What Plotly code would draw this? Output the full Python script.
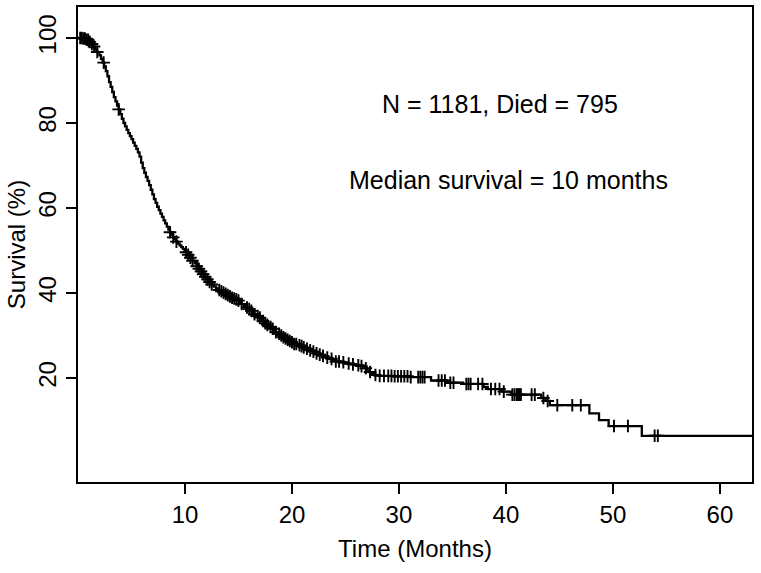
import numpy as np
import plotly.graph_objects as go

# Kaplan-Meier step curve: event times (months) and survival (%) after each step
event_time = [0.0, 0.4, 0.7, 1.0, 1.2, 1.4, 1.6, 1.8, 2.0, 2.15, 2.3, 2.45, 2.6, 2.75,
              2.9, 3.05, 3.2, 3.35, 3.5, 3.65, 3.8, 3.95, 4.1, 4.25, 4.4, 4.55, 4.7,
              4.85, 5.0, 5.15, 5.3, 5.45, 5.6, 5.75, 5.9, 6.05, 6.2, 6.35, 6.5, 6.65,
              6.8, 6.95, 7.1, 7.25, 7.4, 7.55, 7.7, 7.85, 8.0, 8.15, 8.3, 8.45, 8.6,
              8.75, 8.9, 9.05, 9.2, 9.35, 9.5, 9.65, 9.8, 9.95, 10.1, 10.3, 10.5,
              10.7, 10.9, 11.1, 11.3, 11.5, 11.7, 11.9, 12.1, 12.3, 12.5, 12.7, 12.9,
              13.1, 13.3, 13.5, 13.7, 13.9, 14.1, 14.3, 14.5, 14.7, 14.9, 15.1, 15.3,
              15.5, 15.7, 15.9, 16.1, 16.3, 16.5, 16.7, 16.9, 17.1, 17.3, 17.5, 17.7,
              17.9, 18.1, 18.3, 18.5, 18.7, 18.9, 19.1, 19.3, 19.5, 19.7, 19.9, 20.2,
              20.5, 20.8, 21.1, 21.4, 21.7, 22.0, 22.3, 22.6, 22.9, 23.2, 23.5, 23.8,
              24.1, 24.5, 25.0, 25.5, 26.0, 26.5, 26.8, 27.0, 27.2, 27.5, 27.8, 28.2,
              29.5, 31.0, 33.0, 34.5, 36.0, 37.9, 38.3, 39.6, 40.5, 43.3, 43.7, 44.1,
              47.8, 48.7, 49.6, 52.7, 63.0]
survival = [100.0, 99.9, 99.6, 99.1, 98.6, 98.0, 97.3, 96.7, 95.9, 95.1, 94.2, 93.3,
            92.2, 91.0, 89.6, 88.5, 87.3, 86.1, 85.1, 84.1, 83.2, 82.1, 81.0, 80.0,
            79.2, 78.4, 77.6, 76.9, 76.2, 75.4, 74.6, 73.9, 73.1, 72.1, 70.7, 69.4,
            68.3, 67.3, 66.4, 65.4, 64.3, 63.2, 62.1, 61.2, 60.3, 59.5, 58.7, 57.9,
            57.1, 56.4, 55.6, 54.9, 54.3, 53.7, 53.1, 52.6, 52.1, 51.6, 51.2, 50.8,
            50.4, 50.0, 49.6, 49.0, 48.3, 47.6, 47.0, 46.3, 45.7, 45.1, 44.4, 43.8,
            43.2, 42.6, 42.0, 41.5, 41.1, 40.7, 40.4, 40.1, 39.8, 39.5, 39.2, 38.9,
            38.7, 38.5, 38.2, 37.8, 37.4, 37.0, 36.6, 36.2, 35.8, 35.4, 35.0, 34.6,
            34.2, 33.8, 33.4, 32.9, 32.5, 32.0, 31.6, 31.2, 30.8, 30.4, 30.0, 29.6,
            29.3, 29.0, 28.7, 28.4, 28.0, 27.7, 27.5, 27.2, 26.9, 26.5, 26.2, 25.8,
            25.5, 25.2, 24.8, 24.5, 24.2, 23.9, 23.7, 23.4, 23.2, 23.0, 22.8, 22.3,
            21.8, 21.4, 21.0, 20.7, 20.5, 20.4, 20.2, 19.4, 18.9, 18.6, 17.9, 17.4,
            16.8, 16.1, 15.3, 14.6, 13.6, 11.7, 10.1, 8.7, 6.4, 6.4]

# Censoring times (months)
censor_time = [0.2, 0.35, 0.5, 0.65, 0.8, 0.95, 1.1, 1.3, 1.5, 1.8, 2.4, 3.8,
               8.6, 8.9, 9.2,
               10.1, 10.3, 10.5, 10.7, 11.1, 11.3, 11.5, 11.7, 11.9, 12.1, 12.3, 12.5,
               13.2, 13.4, 13.6, 13.8, 14.0, 14.2, 14.4, 14.6, 14.8, 15.0, 15.3,
               15.8, 16.0, 16.2, 16.5, 16.8, 17.0, 17.3, 17.5, 17.7, 18.0, 18.2, 18.5,
               18.8, 19.0, 19.2, 19.4, 19.6, 19.8, 20.0, 20.2, 20.4,
               20.7, 20.9, 21.1, 21.4, 21.7, 22.0, 22.3, 22.6, 22.9, 23.3, 23.7, 24.1,
               24.4, 24.8, 25.3, 25.7, 26.2, 26.5, 26.9, 27.3,
               27.8, 28.2, 28.6, 29.0, 29.3, 29.6, 29.9, 30.2, 30.5, 30.8, 31.1,
               31.8, 32.0, 32.2, 32.4,
               33.7, 34.0, 34.3, 34.8, 35.1, 36.3, 36.5, 36.7, 37.4, 37.8,
               38.6, 39.0, 39.4, 39.8, 40.6, 40.8, 41.0, 41.1, 41.2, 41.3, 41.4, 42.4, 42.7,
               43.5, 43.9, 44.8, 46.2, 47.0, 50.1, 51.4, 53.9, 54.2]

x_ticks = [10, 20, 30, 40, 50, 60]
y_ticks = [20, 40, 60, 80, 100]
note_counts = "N = 1181, Died = 795"
note_median = "Median survival = 10 months"

# survival level at each censoring time (step-function lookup)
et = np.array(event_time)
sv = np.array(survival)
idx = np.searchsorted(et, np.array(censor_time), side="right") - 1
censor_surv = sv[idx]

FONT = "Liberation Sans, Arial, sans-serif"

fig = go.Figure()
fig.add_trace(go.Scatter(
    x=event_time, y=survival, mode="lines",
    line=dict(color="black", width=2.3, shape="hv"),
    hoverinfo="skip", showlegend=False))
fig.add_trace(go.Scatter(
    x=censor_time, y=censor_surv, mode="markers",
    marker=dict(symbol="cross-thin", size=9, color="black",
                line=dict(color="black", width=1.9)),
    hoverinfo="skip", showlegend=False))

fig.add_annotation(x=39.4, y=84.5, text=note_counts, showarrow=False,
                   xref="x", yref="y", font=dict(family=FONT, size=25, color="black"))
fig.add_annotation(x=40.2, y=66.5, text=note_median, showarrow=False,
                   xref="x", yref="y", font=dict(family=FONT, size=25, color="black"))

fig.update_layout(
    width=761, height=573,
    margin=dict(l=78, r=9, t=7, b=91),
    paper_bgcolor="white", plot_bgcolor="white",
    font=dict(family=FONT, size=24, color="black"),
    xaxis=dict(range=[0, 63], tickvals=x_ticks, ticks="outside", ticklen=10,
               tickwidth=1.5, tickcolor="black", showgrid=False, zeroline=False,
               showline=True, linewidth=2, linecolor="black", mirror=True,
               automargin=False,
               title=dict(text="Time (Months)", standoff=13,
                          font=dict(family=FONT, size=24)),
               tickfont=dict(family=FONT, size=24)),
    yaxis=dict(range=[-4.47, 107.3], tickvals=y_ticks, ticks="outside", ticklen=10,
               tickwidth=1.5, tickcolor="black", showgrid=False, zeroline=False,
               showline=True, linewidth=2, linecolor="black", mirror=True,
               tickangle=-90, automargin=False,
               title=dict(text="Survival (%)", standoff=2,
                          font=dict(family=FONT, size=24)),
               tickfont=dict(family=FONT, size=24)),
)

fig.write_html("out.html",
               config={"displayModeBar": False},
               post_script="document.body.style.margin='0px';document.body.style.overflow='hidden';")
